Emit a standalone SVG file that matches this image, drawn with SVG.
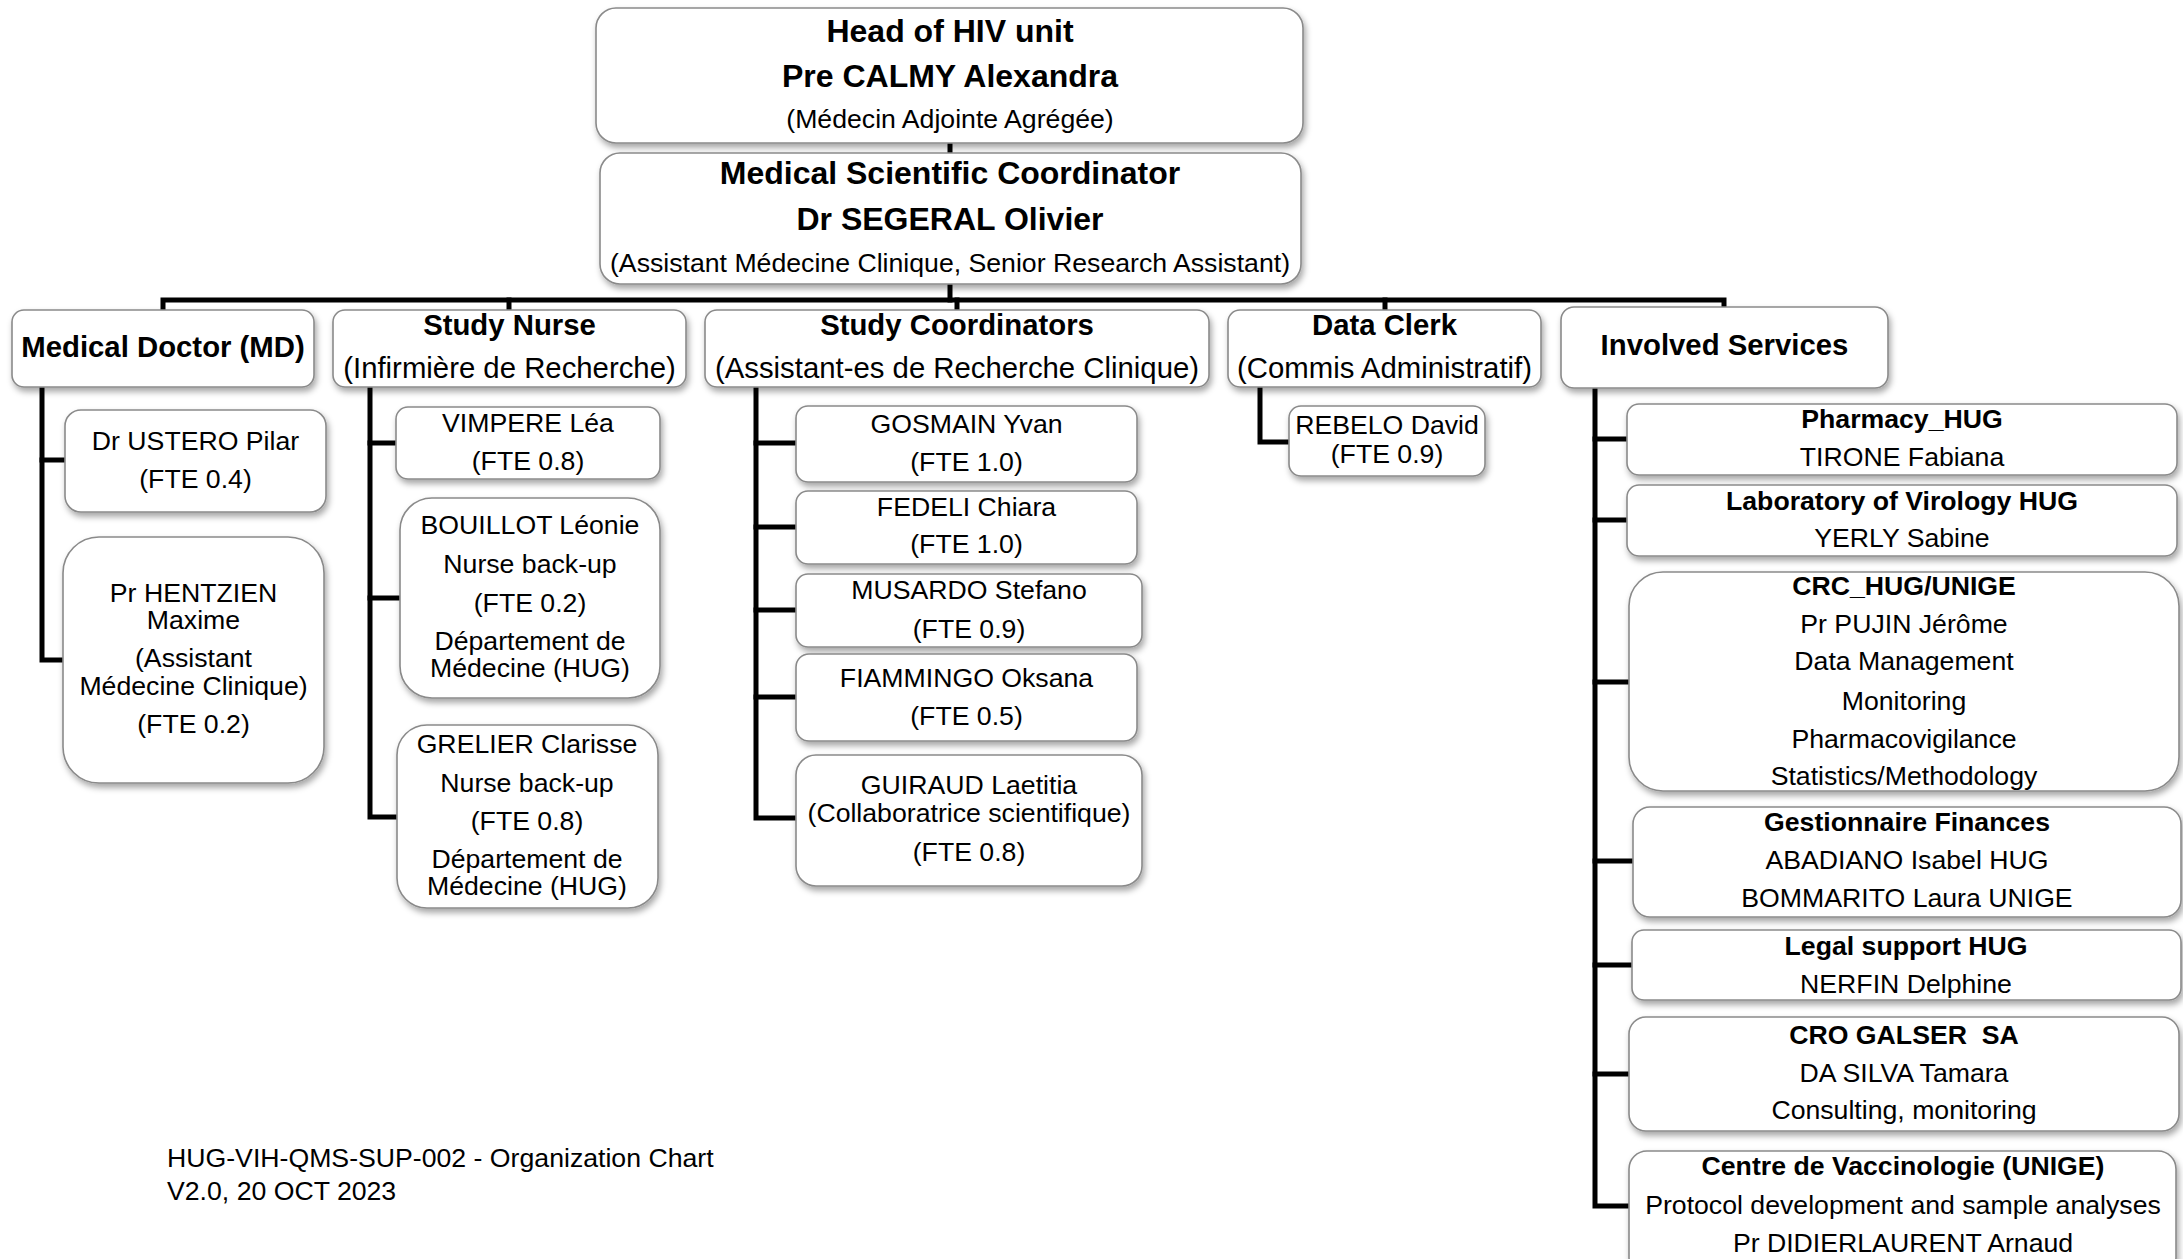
<svg xmlns="http://www.w3.org/2000/svg" width="2183" height="1259" viewBox="0 0 2183 1259">
<defs>
<filter id="sh" x="-10%" y="-10%" width="125%" height="130%">
<feDropShadow dx="2" dy="4" stdDeviation="3" flood-color="#000" flood-opacity="0.35"/>
</filter>
</defs>
<style>
.box{fill:#fff;stroke:#8a8a8a;stroke-width:1.6;filter:url(#sh)}
.c{fill:none;stroke:#000;stroke-width:5;stroke-linecap:square;stroke-linejoin:miter}
text{font-family:"Liberation Sans",Arial,sans-serif;fill:#000;text-anchor:middle}
.b32{font-size:32px;font-weight:bold}
.r26{font-size:26.67px}
.b29{font-size:29.33px;font-weight:bold}
.r29{font-size:29.33px}
.b26{font-size:26.67px;font-weight:bold}
.foot{font-size:26.67px;text-anchor:start}
</style>
<rect width="2183" height="1259" fill="#fff"/>
<g id="connectors">
<path class="c" d="M950,143 V152"/>
<path class="c" d="M950,284 V300"/>
<path class="c" d="M163,310 V300 H1724 V307"/>
<path class="c" d="M509,300 V310"/>
<path class="c" d="M957,300 V310"/>
<path class="c" d="M1385,300 V310"/>
<path class="c" d="M42,387 V660 H62"/>
<path class="c" d="M42,460 H64"/>
<path class="c" d="M370,387 V817 H396"/>
<path class="c" d="M370,443 H395"/>
<path class="c" d="M370,598 H399"/>
<path class="c" d="M756,387 V818 H795"/>
<path class="c" d="M756,443 H795"/>
<path class="c" d="M756,527 H795"/>
<path class="c" d="M756,610 H795"/>
<path class="c" d="M756,697 H795"/>
<path class="c" d="M1260,387 V442 H1288"/>
<path class="c" d="M1595,388 V1206 H1628"/>
<path class="c" d="M1595,439 H1626"/>
<path class="c" d="M1595,520 H1626"/>
<path class="c" d="M1595,682 H1628"/>
<path class="c" d="M1595,861 H1632"/>
<path class="c" d="M1595,965 H1631"/>
<path class="c" d="M1595,1074 H1628"/>
</g>
<g id="head">
<rect class="box" x="596" y="8" width="707" height="135" rx="20"/>
<text class="b32" x="950" y="42">Head of HIV unit</text>
<text class="b32" x="950" y="87">Pre CALMY Alexandra</text>
<text class="r26" x="950" y="128">(Médecin Adjointe Agrégée)</text>
</g>
<g id="coordinator">
<rect class="box" x="600" y="153" width="701" height="131" rx="20"/>
<text class="b32" x="950" y="184">Medical Scientific Coordinator</text>
<text class="b32" x="950" y="230">Dr SEGERAL Olivier</text>
<text class="r26" x="950" y="272">(Assistant Médecine Clinique, Senior Research Assistant)</text>
</g>
<g id="md">
<rect class="box" x="12" y="310" width="302" height="77" rx="12"/>
<text class="b29" x="163" y="357">Medical Doctor (MD)</text>
</g>
<g id="nurse">
<rect class="box" x="333" y="310" width="353" height="77" rx="12"/>
<text class="b29" x="509.5" y="335">Study Nurse</text>
<text class="r29" x="509.5" y="378">(Infirmière de Recherche)</text>
</g>
<g id="coordinators">
<rect class="box" x="705" y="310" width="504" height="77" rx="12"/>
<text class="b29" x="957" y="335">Study Coordinators</text>
<text class="r29" x="957" y="378">(Assistant-es de Recherche Clinique)</text>
</g>
<g id="dataclerk">
<rect class="box" x="1228" y="310" width="313" height="77" rx="12"/>
<text class="b29" x="1384.5" y="335">Data Clerk</text>
<text class="r29" x="1384.5" y="378">(Commis Administratif)</text>
</g>
<g id="services">
<rect class="box" x="1561" y="307" width="327" height="81" rx="13"/>
<text class="b29" x="1724.5" y="355">Involved Services</text>
</g>
<g id="ustero">
<rect class="box" x="65" y="410" width="261" height="102" rx="16"/>
<text class="r26" x="195.5" y="450">Dr USTERO Pilar</text>
<text class="r26" x="195.5" y="488">(FTE 0.4)</text>
</g>
<g id="hentzien">
<rect class="box" x="63" y="537" width="261" height="246" rx="36"/>
<text class="r26" x="193.5" y="602">Pr HENTZIEN</text>
<text class="r26" x="193.5" y="629">Maxime</text>
<text class="r26" x="193.5" y="667">(Assistant</text>
<text class="r26" x="193.5" y="695">Médecine Clinique)</text>
<text class="r26" x="193.5" y="733">(FTE 0.2)</text>
</g>
<g id="vimpere">
<rect class="box" x="396" y="407" width="264" height="72" rx="12"/>
<text class="r26" x="528" y="432">VIMPERE Léa</text>
<text class="r26" x="528" y="470">(FTE 0.8)</text>
</g>
<g id="bouillot">
<rect class="box" x="400" y="498" width="260" height="200" rx="32"/>
<text class="r26" x="530" y="534">BOUILLOT Léonie</text>
<text class="r26" x="530" y="573">Nurse back-up</text>
<text class="r26" x="530" y="612">(FTE 0.2)</text>
<text class="r26" x="530" y="650">Département de</text>
<text class="r26" x="530" y="677">Médecine (HUG)</text>
</g>
<g id="grelier">
<rect class="box" x="397" y="725" width="261" height="183" rx="30"/>
<text class="r26" x="527" y="753">GRELIER Clarisse</text>
<text class="r26" x="527" y="792">Nurse back-up</text>
<text class="r26" x="527" y="830">(FTE 0.8)</text>
<text class="r26" x="527" y="868">Département de</text>
<text class="r26" x="527" y="895">Médecine (HUG)</text>
</g>
<g id="gosmain">
<rect class="box" x="796" y="406" width="341" height="76" rx="12"/>
<text class="r26" x="966.5" y="433">GOSMAIN Yvan</text>
<text class="r26" x="966.5" y="471">(FTE 1.0)</text>
</g>
<g id="fedeli">
<rect class="box" x="796" y="491" width="341" height="73" rx="12"/>
<text class="r26" x="966.5" y="516">FEDELI Chiara</text>
<text class="r26" x="966.5" y="553">(FTE 1.0)</text>
</g>
<g id="musardo">
<rect class="box" x="796" y="574" width="346" height="73" rx="12"/>
<text class="r26" x="969" y="599">MUSARDO Stefano</text>
<text class="r26" x="969" y="638">(FTE 0.9)</text>
</g>
<g id="fiammingo">
<rect class="box" x="796" y="654" width="341" height="87" rx="13"/>
<text class="r26" x="966.5" y="687">FIAMMINGO Oksana</text>
<text class="r26" x="966.5" y="725">(FTE 0.5)</text>
</g>
<g id="guiraud">
<rect class="box" x="796" y="755" width="346" height="131" rx="20"/>
<text class="r26" x="969" y="794">GUIRAUD Laetitia</text>
<text class="r26" x="969" y="822">(Collaboratrice scientifique)</text>
<text class="r26" x="969" y="861">(FTE 0.8)</text>
</g>
<g id="rebelo">
<rect class="box" x="1289" y="406" width="196" height="70" rx="12"/>
<text class="r26" x="1387" y="434">REBELO David</text>
<text class="r26" x="1387" y="463">(FTE 0.9)</text>
</g>
<g id="pharmacy">
<rect class="box" x="1627" y="404" width="550" height="71" rx="12"/>
<text class="b26" x="1902" y="428">Pharmacy_HUG</text>
<text class="r26" x="1902" y="466">TIRONE Fabiana</text>
</g>
<g id="virology">
<rect class="box" x="1627" y="485" width="550" height="71" rx="12"/>
<text class="b26" x="1902" y="510">Laboratory of Virology HUG</text>
<text class="r26" x="1902" y="547">YERLY Sabine</text>
</g>
<g id="crc">
<rect class="box" x="1629" y="572" width="550" height="219" rx="34"/>
<text class="b26" x="1904" y="595">CRC_HUG/UNIGE</text>
<text class="r26" x="1904" y="633">Pr PUJIN Jérôme</text>
<text class="r26" x="1904" y="670">Data Management</text>
<text class="r26" x="1904" y="710">Monitoring</text>
<text class="r26" x="1904" y="748">Pharmacovigilance</text>
<text class="r26" x="1904" y="785">Statistics/Methodology</text>
</g>
<g id="finances">
<rect class="box" x="1633" y="807" width="548" height="110" rx="17"/>
<text class="b26" x="1907" y="831">Gestionnaire Finances</text>
<text class="r26" x="1907" y="869">ABADIANO Isabel HUG</text>
<text class="r26" x="1907" y="907">BOMMARITO Laura UNIGE</text>
</g>
<g id="legal">
<rect class="box" x="1632" y="930" width="549" height="70" rx="12"/>
<text class="b26" x="1906" y="955">Legal support HUG</text>
<text class="r26" x="1906" y="993">NERFIN Delphine</text>
</g>
<g id="cro">
<rect class="box" x="1629" y="1017" width="550" height="114" rx="17"/>
<text class="b26" x="1904" y="1044" xml:space="preserve">CRO GALSER  SA</text>
<text class="r26" x="1904" y="1082">DA SILVA Tamara</text>
<text class="r26" x="1904" y="1119">Consulting, monitoring</text>
</g>
<g id="vaccinologie">
<rect class="box" x="1629" y="1151" width="547" height="125" rx="18"/>
<text class="b26" x="1903" y="1175">Centre de Vaccinologie (UNIGE)</text>
<text class="r26" x="1903" y="1214">Protocol development and sample analyses</text>
<text class="r26" x="1903" y="1252">Pr DIDIERLAURENT Arnaud</text>
</g>
<g id="footer">
<text class="foot" x="167" y="1167">HUG-VIH-QMS-SUP-002 - Organization Chart</text>
<text class="foot" x="167" y="1200">V2.0, 20 OCT 2023</text>
</g>
</svg>
